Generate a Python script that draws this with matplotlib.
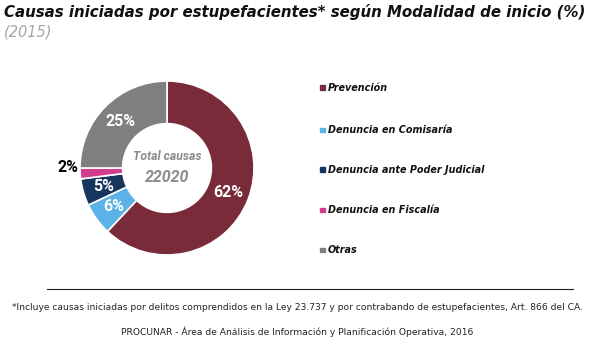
import matplotlib
matplotlib.use("Agg")
import matplotlib.pyplot as plt
from matplotlib.lines import Line2D
from matplotlib.patches import Rectangle
import numpy as np

categories = ["Prevención", "Denuncia en Comisaría", "Denuncia ante Poder Judicial",
              "Denuncia en Fiscalía", "Otras"]
values = [62, 6, 5, 2, 25]
colors = ["#7A2B3A", "#5BB2E6", "#17365D", "#D23C8C", "#7F7F7F"]
total = "22020"

W, H = 591, 350
fig = plt.figure(figsize=(W/100, H/100), dpi=100)
fig.patch.set_facecolor("white")

def fx(x): return x / W
def fy(y): return 1 - y / H

fig.text(fx(4), fy(12), "Causas iniciadas por estupefacientes* según Modalidad de inicio (%)",
         fontsize=10.8, fontweight="bold", fontstyle="italic", color="#111111",
         family="DejaVu Sans", va="center", ha="left")
fig.text(fx(4), fy(32), "(2015)", fontsize=10.5, fontstyle="italic", color="#A6A6A6",
         va="center", ha="left")

cx, cy, r = 167, 168, 87
ax = fig.add_axes([fx(cx - r), fy(cy + r), 2*r/W, 2*r/H])
wedges, _ = ax.pie(values, colors=colors, startangle=90, counterclock=False,
                   radius=1.0, wedgeprops=dict(width=0.49, edgecolor="white", linewidth=1.2))
ax.set_xlim(-1, 1); ax.set_ylim(-1, 1)
ax.set_aspect("equal")
ax.axis("off")

label_pos = [0.755, 0.755, 0.755, 1.14, 0.755]
for i, (v, w) in enumerate(zip(values, wedges)):
    ang = np.deg2rad((w.theta1 + w.theta2) / 2)
    rr = label_pos[i]
    x, y = rr*np.cos(ang), rr*np.sin(ang)
    col = "black" if i == 3 else "white"
    if i == 3:
        y += 0.08
    ax.text(x, y, f"{v}%", ha="center", va="center", fontsize=11.5, fontweight="bold",
            family="Roboto", color=col, clip_on=False)

ax.text(0, 0.13, "Total causas", ha="center", va="center", fontsize=8.8,
        fontstyle="italic", fontweight="bold", family="Roboto", color="#8C8C8C")
ax.text(0, -0.11, total, ha="center", va="center", fontsize=11.5,
        fontstyle="italic", fontweight="bold", family="Roboto", color="#8C8C8C")

leg_y = [88, 130, 170, 210, 250]
for c, lab, y in zip(colors, categories, leg_y):
    fig.add_artist(Rectangle((fx(320), fy(y + 2)), 4.5/W, 4.5/H, color=c,
                             transform=fig.transFigure))
    fig.text(fx(328), fy(y), lab, fontsize=6.9, fontstyle="italic", fontweight="bold",
             color="#111111", va="center", ha="left")

fig.add_artist(Line2D([fx(47), fx(573)], [fy(289), fy(289)], color="#222222", linewidth=0.8))
fig.text(fx(297.5), fy(308), "*Incluye causas iniciadas por delitos comprendidos en la Ley 23.737 y por contrabando de estupefacientes, Art. 866 del CA.",
         fontsize=6.6, color="#222222", ha="center", va="center")
fig.text(fx(297), fy(332), "PROCUNAR - Área de Análisis de Información y Planificación Operativa, 2016",
         fontsize=6.6, color="#222222", ha="center", va="center")

fig.savefig("out.png", dpi=100)
